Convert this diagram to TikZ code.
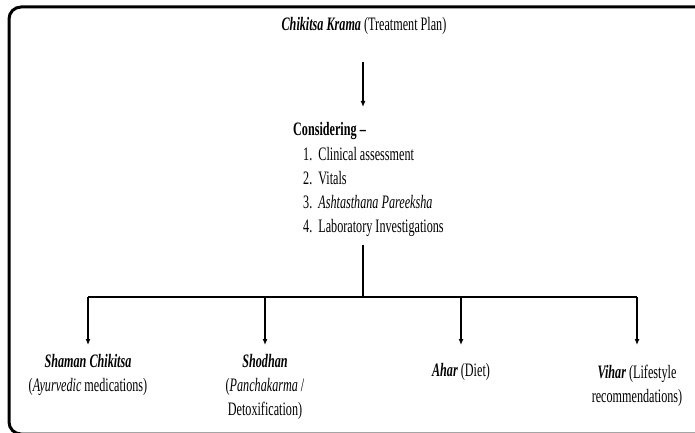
\documentclass[tikz,border=0pt]{standalone}
\usepackage{fontspec}
\setmainfont{Liberation Serif}[FakeStretch=0.64]
\usetikzlibrary{arrows.meta}
\begin{document}
\begin{tikzpicture}[x=1pt,y=-1pt,
  txt/.style={font=\fontsize{19}{24}\selectfont, inner sep=0pt, align=center},
  conn/.style={line width=1.4pt},
  arr/.style={conn, -{Latex[length=6pt,width=5pt]}}]
\useasboundingbox (0,0) rectangle (695,433);
\draw[line width=3pt, rounded corners=12pt] (9,7) rectangle (720,434);
\node[txt] (title) at (364,26) {\textbf{\textit{Chikitsa Krama}} (Treatment Plan)};
\node[txt, anchor=west] (cons) at (293,131) {\textbf{Considering –}};
\node[txt, anchor=north west, align=left] (list) at (303,147)
  {1.\ \ Clinical assessment\\2.\ \ Vitals\\3.\ \ \textit{Ashtasthana Pareeksha}\\4.\ \ Laboratory Investigations};
\coordinate (top) at (363,62);
\coordinate (tip) at (363,107);
\coordinate (vs) at (363,245);
\coordinate (j) at (363,297);
\coordinate (a) at (88,297);
\coordinate (b) at (265,297);
\coordinate (c) at (461,297);
\coordinate (d) at (637,297);
\node[txt, anchor=north] (sham) at (88,354) {\textbf{\textit{Shaman Chikitsa}}\\(\textit{Ayurvedic} medications)};
\node[txt, anchor=north] (shod) at (265,354) {\textbf{\textit{Shodhan}}\\(\textit{Panchakarma} /\\Detoxification)};
\node[txt] (ahar) at (461,372) {\textbf{\textit{Ahar}} (Diet)};
\node[txt, anchor=north] (vihar) at (637,365) {\textbf{\textit{Vihar}} (Lifestyle\\recommendations)};
\draw[arr] (top) -- (tip);
\draw[conn] (vs) -- (j);
\draw[conn] (a) -- (d);
\draw[arr] (a) -- (a |- 0,345);
\draw[arr] (b) -- (b |- 0,345);
\draw[arr] (c) -- (c |- 0,345);
\draw[arr] (d) -- (d |- 0,345);
\end{tikzpicture}
\end{document}
